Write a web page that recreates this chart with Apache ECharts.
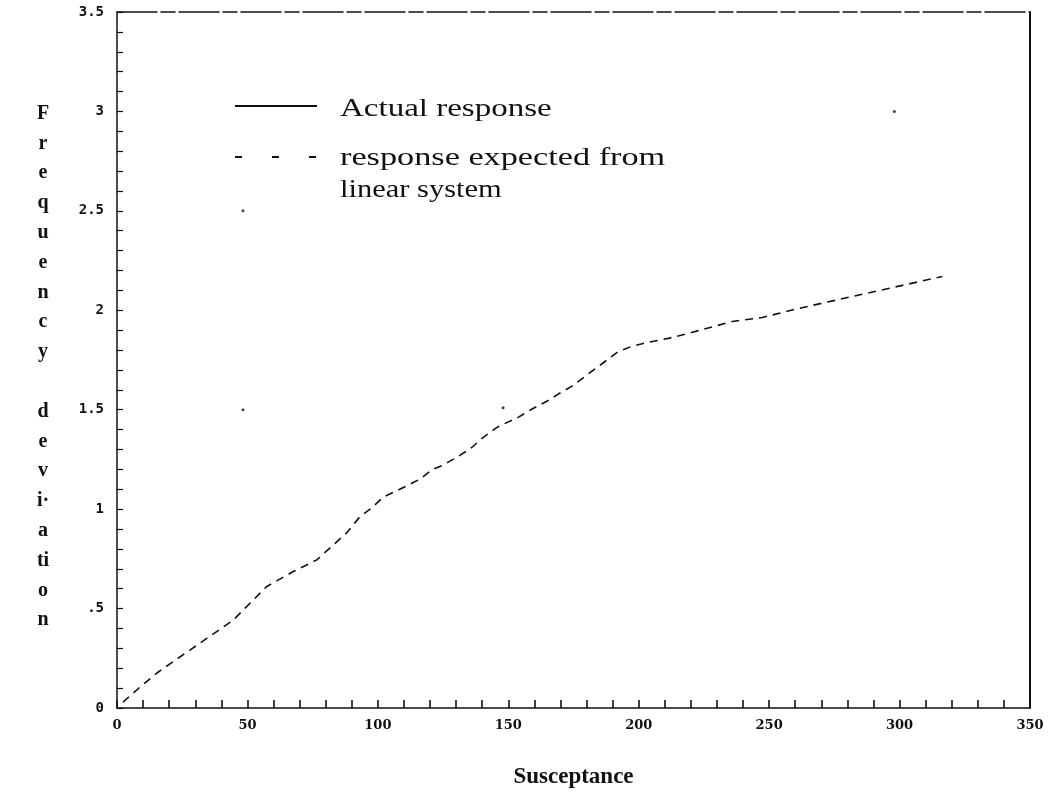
<!DOCTYPE html>
<html>
<head>
<meta charset="utf-8">
<script src="https://cdn.jsdelivr.net/npm/echarts@6/dist/echarts.min.js"></script>
<style>
  html, body { margin: 0; padding: 0; background: #fff; }
  #chart { width: 1052px; height: 794px; }
</style>
</head>
<body>
<div id="chart"></div>
<script>
// Response expected from a linear system: [susceptance, frequency deviation]
const linearResponse = [
  [2.3, 0.03], [8.8, 0.105], [15.3, 0.176], [26.7, 0.28], [34.4, 0.35],
  [44.4, 0.44], [49.7, 0.51], [57.3, 0.61], [67.4, 0.685], [76.6, 0.745],
  [88, 0.88], [93, 0.96], [98, 1.01], [102, 1.06], [108.4, 1.10],
  [111.5, 1.12], [116, 1.15], [121, 1.20], [124.8, 1.22], [131.4, 1.27],
  [136, 1.31], [140.3, 1.36], [145.5, 1.41], [148.6, 1.43], [153.6, 1.46],
  [159.3, 1.505], [165.8, 1.55], [169.3, 1.58], [174.6, 1.62], [191.9, 1.79],
  [197.6, 1.82], [204, 1.84], [211.8, 1.86], [220.2, 1.888], [235.9, 1.944],
  [247.4, 1.964], [255.1, 1.989], [261.2, 2.009], [316.4, 2.17]
];

// Isolated plotted dots
const markerDots = [[48.3, 2.5], [48.3, 1.5], [148, 1.51], [298, 3.0]];

// Tick labels
const xTickLabels = ['0', '50', '100', '150', '200', '250', '300', '350'];
const yTickLabels = ['0', '.5', '1', '1.5', '2', '2.5', '3', '3.5'];

// Axis titles and legend entries
const xTitle = 'Susceptance';
const yTitleLetters = ['F','r','e','q','u','e','n','c','y','','d','e','v','i\u00b7','a','ti','o','n'];
const legendActual = 'Actual response';
const legendLinear = ['response expected from', 'linear system'];

const chart = echarts.init(document.getElementById('chart'), null, { renderer: 'canvas' });

const ink = '#111';

// Stacked-letter title; a short spacer line on top nudges the column down a little
const yTitleText = '{s|}\n' + yTitleLetters.map(c => '{l|' + c + '}').join('\n');

chart.setOption({
  backgroundColor: '#fff',
  animation: false,
  grid: { left: 117, right: 22, top: 12, bottom: 86, outerBoundsMode: 'none', containLabel: false },
  xAxis: [
    {
      type: 'value', min: 0, max: 350, interval: 50, position: 'bottom',
      name: xTitle, nameLocation: 'middle', nameGap: 58,
      nameTextStyle: { fontFamily: 'Liberation Serif', fontWeight: 'bold', fontSize: 23, color: ink },
      axisLine: { show: true, onZero: false, lineStyle: { color: ink, width: 1.5 } },
      axisTick: { show: true, inside: true, length: 8, lineStyle: { color: ink, width: 1.6 } },
      minorTick: { show: true, splitNumber: 5, length: 8, lineStyle: { color: ink, width: 1.6 } },
      splitLine: { show: false },
      minorSplitLine: { show: false },
      axisLabel: {
        margin: 11, color: ink, fontFamily: 'DejaVu Serif', fontWeight: 'bold', fontSize: 13,
        formatter: (v, i) => xTickLabels[i]
      }
    },
    {
      type: 'value', min: 0, max: 350, position: 'top',
      axisLine: { show: true, onZero: false, lineStyle: { color: ink, width: 1.5, type: [40, 4, 14, 4] } },
      axisTick: { show: false }, axisLabel: { show: false }, splitLine: { show: false }
    }
  ],
  yAxis: [
    {
      type: 'value', min: 0, max: 3.5, interval: 0.5, position: 'left',
      name: yTitleText, nameLocation: 'middle', nameGap: 74, nameRotate: 0,
      nameTextStyle: {
        fontFamily: 'Liberation Serif', fontWeight: 'bold', fontSize: 20, color: ink,
        lineHeight: 29.8, align: 'center',
        rich: {
          s: { lineHeight: 14, fontSize: 1 },
          l: { fontFamily: 'Liberation Serif', fontWeight: 'bold', fontSize: 20, color: ink, lineHeight: 29.8, height: 29.8 }
        }
      },
      axisLine: { show: true, onZero: false, lineStyle: { color: ink, width: 1.5 } },
      axisTick: { show: true, inside: true, length: 6, lineStyle: { color: ink, width: 1.2 } },
      minorTick: { show: true, splitNumber: 5, length: 6, lineStyle: { color: ink, width: 1.2 } },
      splitLine: { show: false },
      minorSplitLine: { show: false },
      axisLabel: {
        margin: 13, color: ink, fontFamily: 'DejaVu Sans Mono', fontWeight: 'bold', fontSize: 14,
        formatter: (v, i) => yTickLabels[i]
      }
    },
    {
      type: 'value', min: 0, max: 3.5, position: 'right',
      axisLine: { show: true, onZero: false, lineStyle: { color: ink, width: 2 } },
      axisTick: { show: false }, axisLabel: { show: false }, splitLine: { show: false }
    }
  ],
  series: [
    {
      name: legendLinear.join(' '),
      type: 'line',
      data: linearResponse,
      showSymbol: false,
      symbol: 'none',
      lineStyle: { color: ink, width: 1.6, type: [8, 6] },
      z: 3
    },
    {
      name: 'dots',
      type: 'scatter',
      data: markerDots,
      symbol: 'circle',
      symbolSize: 3,
      itemStyle: { color: ink },
      z: 3
    }
  ],
  graphic: [
    { type: 'line', shape: { x1: 235, y1: 106, x2: 317, y2: 106 }, style: { stroke: ink, lineWidth: 2 } },
    {
      type: 'text', x: 340, y: 109, scaleX: 1.32,
      style: { text: legendActual, fill: ink, font: '25px "Liberation Serif"', verticalAlign: 'middle' }
    },
    { type: 'line', shape: { x1: 235, y1: 157, x2: 317, y2: 157 }, style: { stroke: ink, lineWidth: 2, lineDash: [7, 30] } },
    {
      type: 'text', x: 340, y: 158, scaleX: 1.37,
      style: { text: legendLinear[0], fill: ink, font: '25px "Liberation Serif"', verticalAlign: 'middle' }
    },
    {
      type: 'text', x: 340, y: 190, scaleX: 1.22,
      style: { text: legendLinear[1], fill: ink, font: '25px "Liberation Serif"', verticalAlign: 'middle' }
    }
  ]
});
</script>
</body>
</html>
